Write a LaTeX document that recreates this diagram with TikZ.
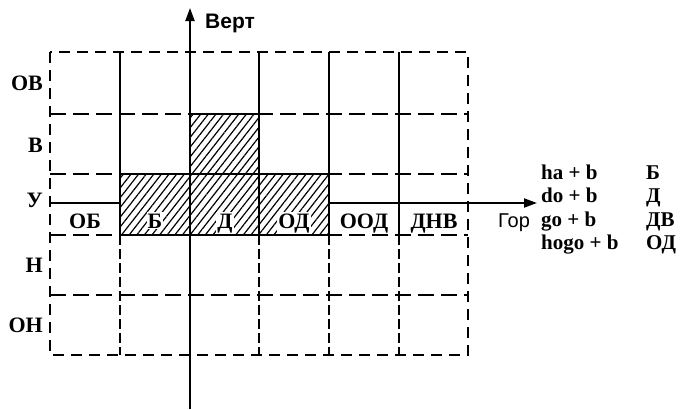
\documentclass[tikz,border=0pt]{standalone}
\usepackage{fontspec}
\setmainfont{Liberation Serif}
\newfontfamily\sansf{Liberation Sans}
\usetikzlibrary{arrows.meta,patterns.meta}
\begin{document}
\begin{tikzpicture}[x=1pt,y=-1pt,
  lbl/.style={font=\fontsize{22}{26}\selectfont\bfseries, inner sep=0pt},
  cell/.style={lbl, fill=white, inner sep=1.2pt, anchor=base},
  rowlbl/.style={lbl, anchor=base east},
  formula/.style={font=\fontsize{21}{25}\selectfont\bfseries, inner sep=0pt, anchor=base west},
  border/.style={line width=1.6pt, dash pattern=on 11pt off 7pt},
  hline/.style={line width=1.6pt, dash pattern=on 16pt off 7pt},
  vsolid/.style={line width=1.8pt},
  vdash/.style={line width=1.6pt, dash pattern=on 10pt off 4pt},
  axis/.style={line width=2pt, -{Triangle[length=13pt,width=9pt]}},
  outline/.style={line width=2.2pt, line join=miter},
]
\useasboundingbox (0,0) rectangle (689,410);
% grid
\draw[border] (50,52) rectangle (468,355);
\foreach \y in {114,174,235,295} \draw[hline] (50,\y) -- (468,\y);
\foreach \x in {120,259,329,399} {
  \draw[vsolid] (\x,52) -- (\x,235);
  \draw[vdash] (\x,235) -- (\x,355);
}
% axes coordinates
\coordinate (vb) at (190,409);
\coordinate (vt) at (190,8);
\coordinate (hl) at (50,203);
\coordinate (hr) at (537,203);
\draw[axis] (hl) -- (hr);
% hatched region
\path[fill=white, postaction={pattern={Lines[angle=52,distance=6pt,line width=1.2pt]}}]
  (120,174) -- (190,174) -- (190,114) -- (259,114) -- (259,174) -- (329,174) -- (329,235) -- (120,235) -- cycle;
\draw[outline] (120,174) -- (190,174) -- (190,114) -- (259,114) -- (259,174) -- (329,174) -- (329,235) -- (120,235) -- cycle;
\draw[outline] (190,174) -- (259,174);
\draw[line width=1.2pt] (259,174) -- (259,235);
\draw[axis] (vb) -- (vt);
% axis labels
\node[font=\sansf\bfseries\fontsize{21}{24}\selectfont, anchor=base west, inner sep=0pt] (vert) at (205,28) {Верт};
\node[font=\sansf\fontsize{20}{24}\selectfont, anchor=base west, inner sep=0pt] (gor) at (498,227) {Гор};
% row labels
\node[rowlbl] (rOV) at (43,90) {ОВ};
\node[rowlbl] (rV) at (43,152) {В};
\node[rowlbl] (rU) at (43,207) {У};
\node[rowlbl] (rN) at (43,272) {Н};
\node[rowlbl] (rON) at (43,332) {ОН};
% cell labels
\node[cell] (cOB) at (85,228) {ОБ};
\node[cell] (cB) at (155,228) {Б};
\node[cell] (cD) at (225,228) {Д};
\node[cell] (cOD) at (294,228) {ОД};
\node[cell] (cOOD) at (364,228) {ООД};
\node[cell] (cDNV) at (434,228) {ДНВ};
% formulas
\node[formula] (f1) at (541,179) {ha + b};
\node[formula] (f2) at (541,202) {do + b};
\node[formula] (f3) at (541,226) {go + b};
\node[formula] (f4) at (541,249) {hogo + b};
\node[formula] (g1) at (646,179) {Б};
\node[formula] (g2) at (646,202) {Д};
\node[formula] (g3) at (646,226) {ДВ};
\node[formula] (g4) at (646,249) {ОД};
\end{tikzpicture}
\end{document}
